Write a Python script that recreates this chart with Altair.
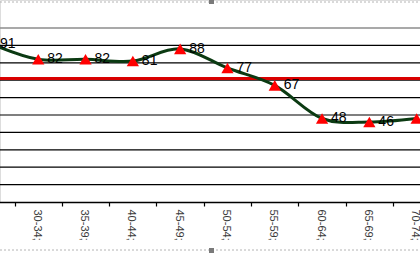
import altair as alt
import pandas as pd

categories = ["25-29;", "30-34;", "35-39;", "40-44;", "45-49;", "50-54;",
              "55-59;", "60-64;", "65-69;", "70-74;"]
values = [91, 82, 82, 81, 88, 77, 67, 48, 46, 48]
reference_value = [71]
top_value = [100]
grid_values = [10, 20, 30, 40, 50, 60, 70, 80, 90]

df = pd.DataFrame({"cat": categories, "val": values})
ref_df = pd.DataFrame({"ref": reference_value})
top_df = pd.DataFrame({"top": top_value})
grid_df = pd.DataFrame({"g": grid_values})
one = alt.Data(values=[{"a": 1}])

xscale = alt.Scale(type="band", domain=categories, range=[-32.7, 440.3],
                   paddingInner=0, paddingOuter=0)
yscale = alt.Scale(domain=[0, 100], range=[202, 28], nice=False, zero=True)

x_axis = alt.Axis(title=None, labelAngle=90, tickBand="extent", grid=False,
                  domainColor="#000000", domainWidth=1.5, tickColor="#000000",
                  tickSize=4, tickWidth=1.2, labelColor="#3a3a3a",
                  labelFont="Liberation Sans", labelFontSize=11, labelPadding=3,
                  labelOffset=-2)
y_axis = alt.Axis(title=None, labels=False, ticks=False, domain=False, grid=False)

base = alt.Chart(df)

grid = alt.Chart(grid_df).mark_rule(color="#000000", strokeWidth=1.2).encode(
    y=alt.Y("g:Q", scale=yscale, axis=y_axis)
)

line = base.mark_line(color="#0b3a12", strokeWidth=3, interpolate="cardinal").encode(
    x=alt.X("cat:N", scale=xscale, axis=x_axis, sort=categories),
    y=alt.Y("val:Q"),
)

points = base.mark_point(shape="triangle-up", filled=True, color="#ff0000",
                         size=150, opacity=1).encode(
    x=alt.X("cat:N", sort=categories),
    y=alt.Y("val:Q"),
)

labels = base.mark_text(align="left", baseline="middle", dx=9, dy=0,
                        font="Liberation Sans", fontSize=14, color="#000000").encode(
    x=alt.X("cat:N", sort=categories),
    y=alt.Y("val:Q"),
    text=alt.Text("val:Q"),
)

ref_rule = alt.Chart(ref_df).mark_rule(color="#d90000", strokeWidth=3).encode(
    y=alt.Y("ref:Q")
)
top_rule = alt.Chart(top_df).mark_rule(color="#8c8c8c", strokeWidth=1.5).encode(
    y=alt.Y("top:Q")
)

border_top = alt.Chart(one).mark_rule(color="#b4b4b4", strokeDash=[2, 2], strokeWidth=1).encode(
    x=alt.value(0), x2=alt.value(420), y=alt.value(2))
border_bot = alt.Chart(one).mark_rule(color="#b4b4b4", strokeDash=[2, 2], strokeWidth=1).encode(
    x=alt.value(0), x2=alt.value(420), y=alt.value(250))
handle_top = alt.Chart(one).mark_rect(color="#7a7a7a").encode(
    x=alt.value(209), x2=alt.value(214), y=alt.value(0), y2=alt.value(4))
handle_bot = alt.Chart(one).mark_rect(color="#7a7a7a").encode(
    x=alt.value(209), x2=alt.value(214), y=alt.value(248), y2=alt.value(253))

chart = alt.layer(grid, top_rule, ref_rule, line, points, labels,
                  border_top, border_bot, handle_top, handle_bot).properties(
    width=420, height=202,
    padding={"left": 0, "top": 0, "right": 0, "bottom": 53},
    autosize=alt.AutoSizeParams(type="none"),
).configure_view(stroke=None).configure(background="#ffffff")

chart.save("out.html", embed_options={"renderer": "svg", "actions": False})
